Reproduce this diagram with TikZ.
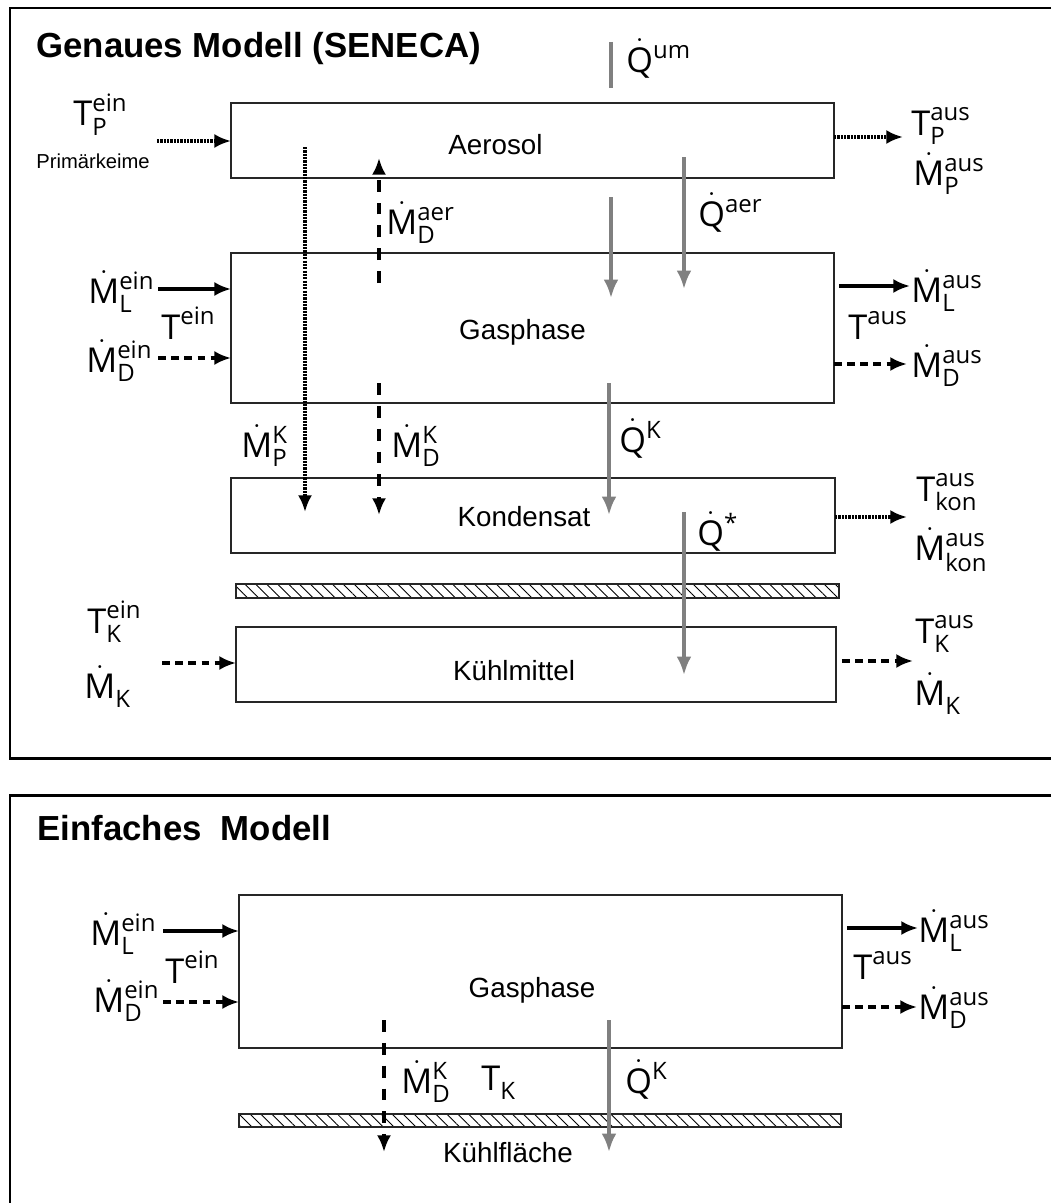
\documentclass[tikz,border=0pt]{standalone}
\usepackage{amsmath}
\usepackage{fontspec}
\setmainfont{Liberation Sans}
\newfontfamily\symfont{Open Sans}
\usetikzlibrary{arrows.meta,patterns.meta}
\newcommand{\dt}[1]{\smash[t]{\dot{\text{#1}}}\vphantom{\text{#1}}}
\newcommand{\Md}[2]{$\dt{M}^{\text{#1}}_{\text{#2}}$}
\newcommand{\Ms}[1]{$\dt{M}^{}_{\text{#1}}$}
\newcommand{\Tt}[2]{$\text{T}^{\text{#1}}_{\text{#2}}$}
\newcommand{\Ts}[1]{$\text{T}^{\text{#1}}$}
\newcommand{\Tk}[1]{$\text{T}^{}_{\text{#1}}$}
\newcommand{\Qd}[1]{$\dt{Q}^{\text{#1}}$}

\begin{document}
\begin{tikzpicture}[x=0.02cm,y=-0.02cm,
  box/.style={draw=black!85,line width=0.8pt,inner sep=0pt,outer sep=0pt},
  wall/.style={box,pattern={Lines[angle=-45,distance=4.4pt,line width=0.5pt]}},
  txt/.style={anchor=base,inner sep=0pt,font=\fontsize{15.8}{19}\selectfont},
  sml/.style={anchor=base west,inner sep=0pt,font=\fontsize{11.5}{14}\selectfont},
  title/.style={anchor=base west,inner sep=0pt,font=\bfseries\fontsize{19.8}{24}\selectfont},
  lbl/.style={anchor=base west,inner sep=0pt,font=\symfont\fontsize{19.5}{23}\selectfont},
  flow/.style={line width=2.3pt,-{Latex[length=9.5pt,width=8pt]}},
  dflow/.style={flow,dash pattern=on 4.5pt off 3pt},
  vflow/.style={flow,dash pattern=on 6.8pt off 6.2pt},
  pflow/.style={flow,line width=2.5pt,dash pattern=on 1.3pt off 0.6pt},
  heat/.style={line width=2.4pt,gray,-{Latex[length=10.5pt,width=8.5pt]}},
  frame/.style={line width=1.7pt}
]
  \useasboundingbox (0,0) rectangle (1051,1203);
  % panels
  \draw[frame] (1051,8) -- (10,8) -- (10,758) -- (1051,758);
  \draw[frame] (1051,795) -- (10,795) -- (10,1203);
  \node[title] (t1) at (36,58) {Genaues Modell (SENECA)};
  \node[title] (t2) at (37,840) {Einfaches\ \ Modell};

  % genaues Modell
  \node[box,minimum width=12.06cm,minimum height=1.5cm] (aer) at (532.5,140.5) {};
  \node[box,minimum width=12.06cm,minimum height=3cm] (gas) at (532.5,328) {};
  \node[box,minimum width=12.08cm,minimum height=1.5cm] (kon) at (533,515.5) {};
  \node[wall,minimum width=12.06cm,minimum height=0.28cm] (wall1) at (537.5,591) {};
  \node[box,minimum width=12cm,minimum height=1.5cm] (kuehl) at (536,664.5) {};
  \node[txt] (taer) at (495.5,154) {Aerosol};
  \node[txt] (tgas) at (522.5,339) {Gasphase};
  \node[txt] (tkon) at (524,526) {Kondensat};
  \node[txt] (tkuehl) at (514,680) {Kühlmittel};

  \node[lbl] (qum) at (626,72) {\Qd{um}};
  \node[lbl] (tpein) at (73,126) {\Tt{ein}{P}};
  \node[sml] (prim) at (36,168) {Primärkeime};
  \node[lbl] (tpaus) at (911,135) {\Tt{aus}{P}};
  \node[lbl] (mpaus) at (913,185) {\Md{aus}{P}};
  \node[lbl] (mdaer) at (386,234) {\Md{aer}{D}};
  \node[lbl] (qaer) at (698,226) {\Qd{aer}};
  \node[lbl] (mlein) at (88,303) {\Md{ein}{L}};
  \node[lbl] (tein) at (161,339) {\Ts{ein}};
  \node[lbl] (mdein) at (86,372) {\Md{ein}{D}};
  \node[lbl] (mlaus) at (911,302) {\Md{aus}{L}};
  \node[lbl] (taus) at (848,339) {\Ts{aus}};
  \node[lbl] (mdaus) at (911,377) {\Md{aus}{D}};
  \node[lbl] (mpk) at (241,457) {\Md{K}{P}};
  \node[lbl] (mdk) at (391,457) {\Md{K}{D}};
  \node[lbl] (qk) at (619,452) {\Qd{K}};
  \node[lbl] (tkonaus) at (916,501) {\Tt{aus}{kon}};
  \node[lbl] (mkonaus) at (914,560) {\Md{aus}{kon}};
  \node[lbl] (qstar) at (697,545) {\Qd{*}};
  \node[lbl] (tkein) at (87,633) {\Tt{ein}{K}};
  \node[lbl] (mkin) at (84,698) {\Ms{K}};
  \node[lbl] (tkaus) at (915,643) {\Tt{aus}{K}};
  \node[lbl] (mkaus) at (914,705) {\Ms{K}};

  \coordinate (a1) at (157,141);  \coordinate (a2) at (903,137);
  \coordinate (g1) at (158,289);  \coordinate (g2) at (158,358);
  \coordinate (g3) at (910,286);  \coordinate (g4) at (907,364);
  \coordinate (k1) at (907,517);
  \coordinate (c1) at (162,663);  \coordinate (c2) at (913,661);
  \draw[pflow] (a1) -- (a1 -| aer.west);
  \draw[pflow] (a2 -| aer.east) -- (a2);
  \draw[flow] (g1) -- (g1 -| gas.west);
  \draw[dflow] (g2) -- (g2 -| gas.west);
  \draw[flow] ([xshift=0.1cm]g3 -| gas.east) -- (g3);
  \draw[dflow] (g4 -| gas.east) -- (g4);
  \draw[pflow] (k1 -| kon.east) -- (k1);
  \draw[dflow] (c1) -- (c1 -| kuehl.west);
  \draw[dflow] ([xshift=0.12cm]c2 -| kuehl.east) -- (c2);

  \coordinate (p0) at (305,147);  \coordinate (p1) at (305,512);
  \coordinate (d0) at (379,283);  \coordinate (d1) at (379,158);
  \coordinate (d2) at (379,383);  \coordinate (d3) at (379,515);
  \draw[pflow] (p0) -- (p1);
  \draw[vflow] (d0) -- (d1);
  \draw[vflow] (d2) -- (d3);

  \coordinate (h0) at (611,42);   \coordinate (h1) at (611,88);
  \coordinate (h2) at (611,197);  \coordinate (h3) at (611,298);
  \coordinate (h4) at (684,157);  \coordinate (h5) at (684,289);
  \coordinate (h6) at (609,383);  \coordinate (h7) at (609,515);
  \coordinate (h8) at (684,512);  \coordinate (h9) at (684,675);
  \draw[heat,-] (h0) -- (h1);
  \draw[heat] (h2) -- (h3);
  \draw[heat] (h4) -- (h5);
  \draw[heat] (h6) -- (h7);
  \draw[heat] (h8) -- (h9);

  % einfaches Modell
  \node[box,minimum width=12.06cm,minimum height=3.06cm] (gas2) at (540.5,971.5) {};
  \node[wall,minimum width=12.04cm,minimum height=0.26cm] (wall2) at (540,1120.5) {};
  \node[txt] (tgas2) at (532,997) {Gasphase};
  \node[txt] (twall) at (508,1162) {Kühlfläche};

  \node[lbl] (mlein2) at (90,945) {\Md{ein}{L}};
  \node[lbl] (tein2) at (165,983) {\Ts{ein}};
  \node[lbl] (mdein2) at (93,1012) {\Md{ein}{D}};
  \node[lbl] (mlaus2) at (918,942) {\Md{aus}{L}};
  \node[lbl] (taus2) at (853,979) {\Ts{aus}};
  \node[lbl] (mdaus2) at (918,1019) {\Md{aus}{D}};
  \node[lbl] (mdk2) at (401,1093) {\Md{K}{D}};
  \node[lbl] (tk2) at (481,1090) {\Tk{K}};
  \node[lbl] (qk2) at (625,1093) {\Qd{K}};

  \coordinate (e1) at (163,931);  \coordinate (e2) at (163,1002);
  \coordinate (e3) at (918,928);  \coordinate (e4) at (917,1007);
  \coordinate (e5) at (384,1020); \coordinate (e6) at (384,1152);
  \coordinate (e7) at (609,1020); \coordinate (e8) at (609,1152);
  \draw[flow] (e1) -- (e1 -| gas2.west);
  \draw[dflow] (e2) -- (e2 -| gas2.west);
  \draw[flow] ([xshift=0.1cm]e3 -| gas2.east) -- (e3);
  \draw[dflow] (e4 -| gas2.east) -- (e4);
  \draw[vflow] (e5) -- (e6);
  \draw[heat] (e7) -- (e8);
\end{tikzpicture}
\end{document}
